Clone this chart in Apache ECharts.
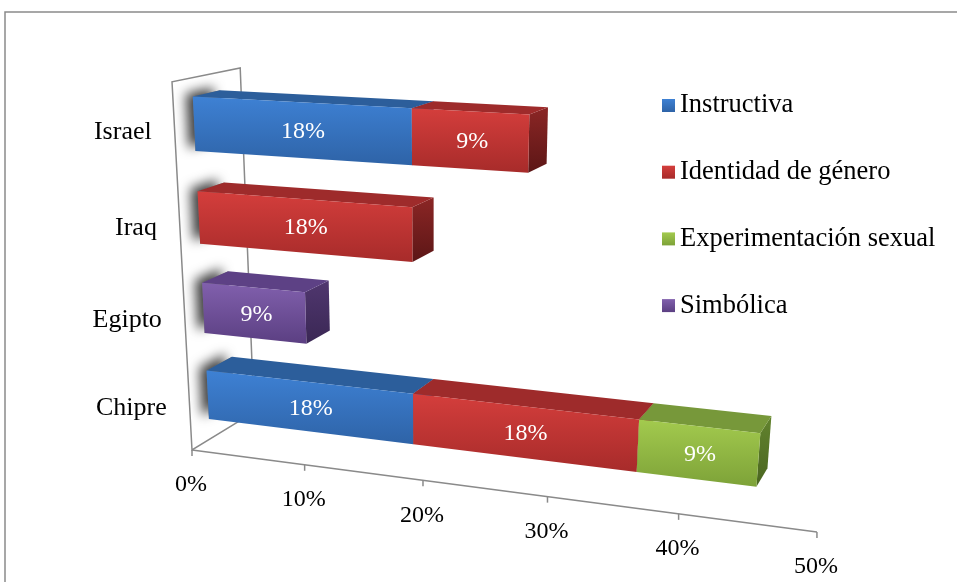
<!DOCTYPE html>
<html>
<head>
<meta charset="utf-8">
<script src="https://cdn.jsdelivr.net/npm/echarts@6/dist/echarts.min.js"></script>
<style>
  html, body { margin: 0; padding: 0; background: #ffffff; }
  #chart { width: 957px; height: 582px; }
</style>
</head>
<body>
<div id="chart"></div>
<script>
// Categories, bottom to top as the category axis lays them out
const categories = ['Chipre', 'Egipto', 'Iraq', 'Israel'];
const seriesNames = ['Instructiva', 'Identidad de género', 'Experimentación sexual', 'Simbólica'];
// Percent values per category (same order as categories)
const instructiva     = [18, 0, 0, 18];
const identidad       = [18, 0, 18, 9];
const experimentacion = [9, 0, 0, 0];
const simbolica       = [0, 9, 0, 0];
const tickValues = [0, 10, 20, 30, 40, 50];

const seriesValues = [instructiva, identidad, experimentacion, simbolica];

// Face palettes: front gradient (top, bottom), top face, side gradient
const palettes = [
  { front: ['#3e81d4', '#2e63a7'], top: '#2c5e9b', side: ['#2a5a92', '#1f4675'] },
  { front: ['#d43e3c', '#a72b2a'], top: '#9e2b2b', side: ['#8b2625', '#5c1616'] },
  { front: ['#a3ca4e', '#7da238'], top: '#77983a', side: ['#62832e', '#4a6520'] },
  { front: ['#8160ad', '#5b3f82'], top: '#5d4185', side: ['#50376f', '#3a2754'] }
];

const GRID = { left: 0, top: 0, width: 500, height: 400 };
const X_MAX = tickValues[tickValues.length - 1];

// Perspective view of the plot box: X in percent, Y as fraction of height, Z as fraction of depth
function project(X, Y, Z) {
  const u = 192 + 10.53 * X - 33.17 * Y + 80.36 * Z;
  const v = 450 + 0.358 * X - 374.4 * Y - 7.96 * Z;
  const w = 1 - 0.00241 * X - 0.0766 * Y + 0.0724 * Z;
  return [u / w, v / w];
}
// grid pixel -> (X percent, Y fraction)
function toWorld(pt) {
  return [(pt[0] - GRID.left) / GRID.width * X_MAX, 1 - (pt[1] - GRID.top) / GRID.height];
}

const Z_FRONT = 0.2755, Z_BACK = 0.679;
const BAR_HALF = 0.285;   // half bar thickness, as share of a category band
const BAR_SHIFT = 0.006;
const FONT = '"Liberation Serif", "Times New Roman", serif';

function grad(c0, c1) {
  return new echarts.graphic.LinearGradient(0, 0, 0, 1, [
    { offset: 0, color: c0 }, { offset: 1, color: c1 }
  ]);
}

// stacked starts
const stackData = [];
const running = categories.map(() => 0);
seriesValues.forEach((vals) => {
  const rows = vals.map((v, i) => {
    const s = running[i];
    running[i] += v;
    return [s, s + v, i, v];
  });
  stackData.push(rows);
});
const totals = running.slice();

function barRenderer(k) {
  const pal = palettes[k];
  return function (params, api) {
    const val = api.value(3);
    if (!(val > 0)) return null;
    const idx = api.value(2);
    const a = toWorld(api.coord([api.value(0), idx]));
    const b = toWorld(api.coord([api.value(1), idx]));
    const band = api.size([0, 1])[1] / GRID.height;
    const yc = a[1] + BAR_SHIFT;
    const y0 = yc - band * BAR_HALF, y1 = yc + band * BAR_HALF;
    const x0 = a[0], x1 = b[0];
    const front = [project(x0, y0, Z_FRONT), project(x1, y0, Z_FRONT), project(x1, y1, Z_FRONT), project(x0, y1, Z_FRONT)];
    const top = [project(x0, y1, Z_FRONT), project(x1, y1, Z_FRONT), project(x1, y1, Z_BACK), project(x0, y1, Z_BACK)];
    const side = [project(x1, y0, Z_FRONT), project(x1, y0, Z_BACK), project(x1, y1, Z_BACK), project(x1, y1, Z_FRONT)];
    const c = project((x0 + x1) / 2, yc, Z_FRONT);
    return {
      type: 'group',
      children: [
        { type: 'polygon', shape: { points: side }, style: { fill: grad(pal.side[0], pal.side[1]) } },
        { type: 'polygon', shape: { points: top }, style: { fill: pal.top } },
        { type: 'polygon', shape: { points: front }, style: { fill: grad(pal.front[0], pal.front[1]) } },
        { type: 'text', style: { text: Math.round(val) + '%', x: c[0] + 2.5, y: c[1] + 1.5, fill: '#ffffff',
            font: '24px ' + FONT, align: 'center', verticalAlign: 'middle' } }
      ]
    };
  };
}

// Soft shadow where each bar meets the side wall
function shadowRenderer(params, api) {
  const idx = api.value(1);
  if (!(api.value(0) > 0)) return null;
  const a = toWorld(api.coord([0, idx]));
  const band = api.size([0, 1])[1] / GRID.height;
  const yc = a[1] + BAR_SHIFT;
  const y0 = yc - band * BAR_HALF, y1 = yc + band * BAR_HALF;
  const pts = [project(0, y0, Z_FRONT), project(0, y1, Z_FRONT), project(0, y1, Z_BACK), project(0, y0, Z_BACK)];
  return {
    type: 'polygon', shape: { points: pts },
    style: { fill: 'rgba(110,110,110,1)', shadowBlur: 12, shadowColor: 'rgba(0,0,0,0.75)', shadowOffsetX: -7, shadowOffsetY: -3 }
  };
}

// Wall, floor edge, value ticks and all axis labels
function frameRenderer(params, api) {
  const children = [];
  const wall = [project(0, 0, 0), project(0, 1, 0), project(0, 1, 1), project(0, 0, 1)];
  children.push({ type: 'polygon', shape: { points: wall },
    style: { fill: '#ffffff', stroke: '#8a8a8a', lineWidth: 1.5, lineJoin: 'miter' } });
  const p0 = project(0, 0, 0);
  const pEnd = project(toWorld(api.coord([X_MAX, 0]))[0], 0, 0);
  children.push({ type: 'line', shape: { x1: p0[0], y1: p0[1], x2: pEnd[0], y2: pEnd[1] },
    style: { stroke: '#8a8a8a', lineWidth: 1.5 } });
  tickValues.forEach((t) => {
    const X = toWorld(api.coord([t, 0]))[0];
    const p = project(X, 0, 0);
    children.push({ type: 'line', shape: { x1: p[0], y1: p[1], x2: p[0], y2: p[1] + 6 },
      style: { stroke: '#8a8a8a', lineWidth: 1.5 } });
    children.push({ type: 'text', style: { text: t + '%', x: p[0] - 1, y: p[1] + 35, fill: '#000000',
      font: '24px ' + FONT, align: 'center', verticalAlign: 'middle' } });
  });
  categories.forEach((name, i) => {
    const Y = toWorld(api.coord([0, i]))[1];
    const p = project(0, Y, 0);
    children.push({ type: 'text', style: { text: name, x: p[0] - 23, y: p[1] + 1, fill: '#000000',
      font: '26px ' + FONT, align: 'right', verticalAlign: 'middle' } });
  });
  return { type: 'group', children };
}

const legendColors = palettes.map((p) => grad(p.front[0], p.front[1]));

const series = [
  { type: 'custom', name: 'frame', coordinateSystem: 'cartesian2d', renderItem: frameRenderer,
    data: [[0, 0]], clip: false, silent: true, z: 1 },
  { type: 'custom', name: 'shadow', coordinateSystem: 'cartesian2d', renderItem: shadowRenderer,
    data: totals.map((t, i) => [t, i]), encode: { x: 0, y: 1 }, clip: false, silent: true, z: 2 }
];
seriesNames.forEach((name, k) => {
  series.push({
    type: 'custom', name: name, coordinateSystem: 'cartesian2d',
    renderItem: barRenderer(k), data: stackData[k], encode: { x: [0, 1], y: 2 },
    itemStyle: { color: legendColors[k] }, clip: false, silent: true, z: 3
  });
});

const chart = echarts.init(document.getElementById('chart'), null, { renderer: 'canvas' });
chart.setOption({
  animation: false,
  backgroundColor: '#ffffff',
  grid: { left: GRID.left, top: GRID.top, width: GRID.width, height: GRID.height, show: false },
  xAxis: { type: 'value', min: 0, max: X_MAX, interval: 10, show: false },
  yAxis: { type: 'category', data: categories, show: false },
  legend: {
    data: seriesNames.map((n, k) => ({ name: n, itemStyle: { color: legendColors[k] } })),
    orient: 'vertical', left: 657, top: 87, itemWidth: 13, itemHeight: 13, itemGap: 39.7,
    icon: 'rect', selectedMode: false,
    textStyle: { fontFamily: FONT, fontSize: 26.5, color: '#000000', lineHeight: 27 }
  },
  graphic: [{
    type: 'rect', silent: true, z: 0,
    shape: { x: 5, y: 12, width: 1000, height: 620 },
    style: { fill: 'none', stroke: '#8a8a8a', lineWidth: 1.5 }
  }],
  series: series
});
</script>
</body>
</html>
